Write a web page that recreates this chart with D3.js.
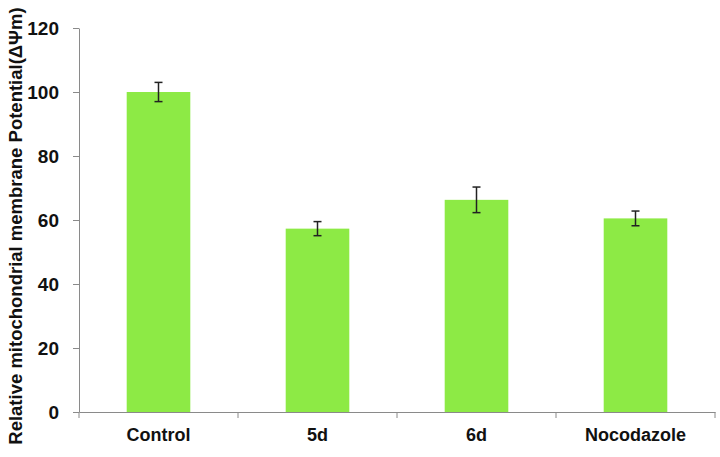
<!DOCTYPE html>
<html><head><meta charset="utf-8">
<script src="https://cdn.jsdelivr.net/npm/d3@7"></script>
<style>body{margin:0;background:#fff}svg{display:block}</style>
</head><body>
<svg id="c" width="720" height="457"></svg>
<script>
const categories = ["Control", "5d", "6d", "Nocodazole"];
const values = [100, 57.3, 66.3, 60.5];
const errors = [3, 2.2, 4, 2.3];
const yTicks = [0, 20, 40, 60, 80, 100, 120];
const yLabel = "Relative mitochondrial membrane Potential(ΔΨm)";

(function () {
const svg = d3.select("#c");
const mLeft = 79, mRight = 715, mTop = 28, mBottom = 412;
const font = "Liberation Sans, Arial, sans-serif";
const x = d3.scaleBand().domain(categories).range([mLeft, mRight]).paddingInner(0.6).paddingOuter(0.3);
const y = d3.scaleLinear().domain([0, 120]).range([mBottom, mTop]);
const band = d3.scaleBand().domain(categories).range([mLeft, mRight]);

svg.selectAll("rect.bar").data(categories).join("rect")
  .attr("x", d => x(d)).attr("width", x.bandwidth())
  .attr("y", (d, i) => y(values[i])).attr("height", (d, i) => y(0) - y(values[i]))
  .attr("fill", "#8DEA45");

const eg = svg.append("g").attr("stroke", "#222").attr("stroke-width", 1.5);
categories.forEach((c, i) => {
  const cx = x(c) + x.bandwidth() / 2;
  eg.append("line").attr("x1", cx).attr("x2", cx).attr("y1", y(values[i] + errors[i])).attr("y2", y(values[i] - errors[i]));
  eg.append("line").attr("x1", cx - 4).attr("x2", cx + 4).attr("y1", y(values[i] + errors[i])).attr("y2", y(values[i] + errors[i]));
  eg.append("line").attr("x1", cx - 4).attr("x2", cx + 4).attr("y1", y(values[i] - errors[i])).attr("y2", y(values[i] - errors[i]));
});

const ya = svg.append("g").attr("transform", `translate(${mLeft},0)`)
  .call(d3.axisLeft(y).tickValues(yTicks).tickSize(6).tickPadding(14).tickSizeOuter(0));
ya.select(".domain").attr("stroke", "#8a8a8a");
ya.selectAll(".tick line").attr("stroke", "#8a8a8a");
ya.selectAll("text").attr("font-family", font).attr("font-weight", "bold").attr("font-size", 19).attr("fill", "#111");

const xa = svg.append("g").attr("transform", `translate(0,${mBottom})`)
  .call(d3.axisBottom(band).tickSize(0).tickPadding(16));
xa.select(".domain").attr("stroke", "#8a8a8a");
xa.selectAll("text").attr("font-family", font).attr("font-weight", "bold").attr("font-size", 18).attr("fill", "#111");
const bounds = categories.map(c => band(c)).concat([mRight]);
xa.selectAll("line.bt").data(bounds).join("line").attr("class", "bt")
  .attr("x1", d => d).attr("x2", d => d).attr("y1", 0).attr("y2", 6).attr("stroke", "#8a8a8a");

svg.append("text").attr("transform", `translate(22,226) rotate(-90)`)
  .attr("text-anchor", "middle").attr("font-family", font)
  .attr("font-weight", "bold").attr("font-size", 18.5).attr("fill", "#111").text(yLabel);
})();
</script>
</body></html>
